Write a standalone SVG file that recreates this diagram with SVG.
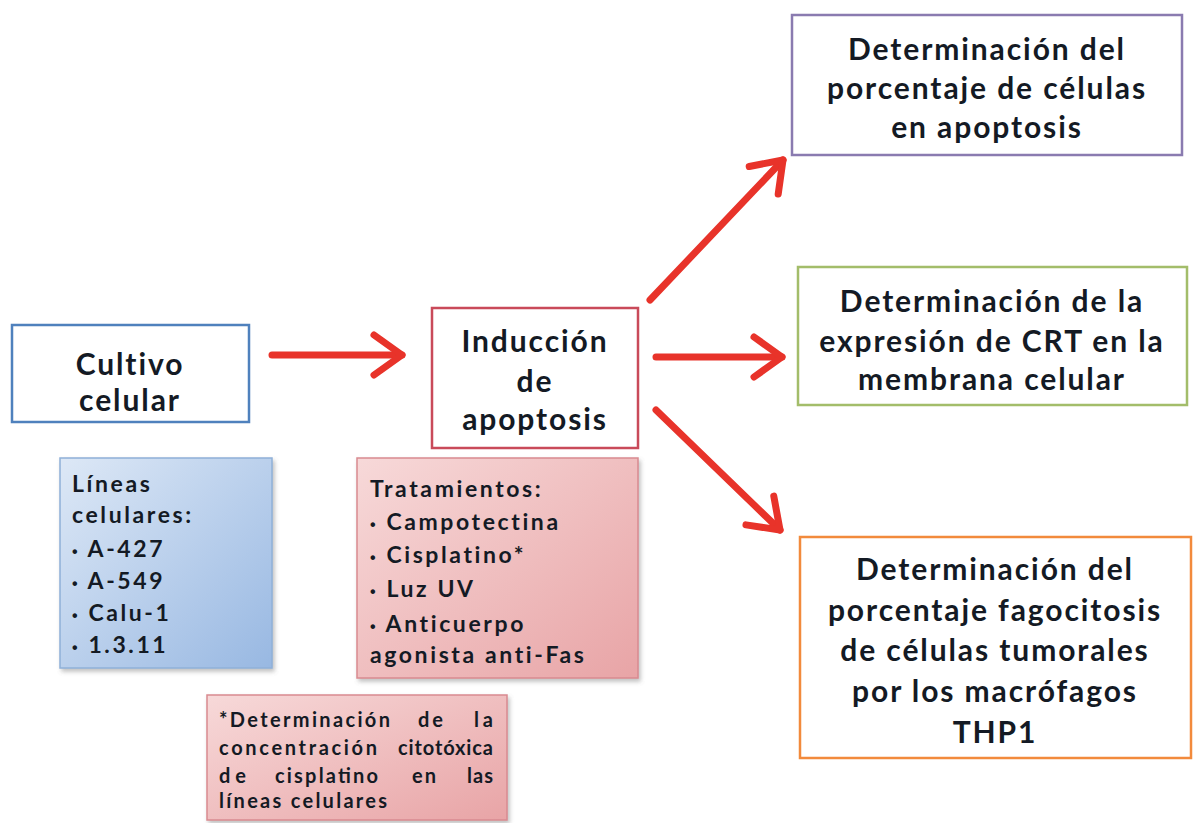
<svg xmlns="http://www.w3.org/2000/svg" width="1198" height="823" viewBox="0 0 1198 823">
<style>
.t{font-family:Lato,"Open Sans","Liberation Sans",sans-serif;font-weight:bold;fill:#141a24}
.big{font-size:30px;letter-spacing:1.9px;text-anchor:middle}
.mid{font-size:23px;letter-spacing:2.6px}
.sm{font-size:20px}
.b{font-family:"Liberation Sans",sans-serif;font-size:16px}
.box{fill:#fff;stroke-width:2.5}
.arrow{fill:none;stroke:#e8332a;stroke-width:7;stroke-linecap:round}
</style>
<defs>
<marker id="head" viewBox="0 0 40 50" refX="34" refY="25" markerWidth="40" markerHeight="50" markerUnits="userSpaceOnUse" orient="auto">
<path d="M6,5 L34,25 L6,45" fill="none" stroke="#e8332a" stroke-width="7" stroke-linecap="round" stroke-linejoin="round"/>
</marker>
<linearGradient id="blueG" x1="0" y1="0" x2="1" y2="1">
<stop offset="0" stop-color="#dde8f6"/>
<stop offset="1" stop-color="#98b8e2"/>
</linearGradient>
<linearGradient id="pinkG" x1="0" y1="0" x2="1" y2="1">
<stop offset="0" stop-color="#f7d9d9"/>
<stop offset="1" stop-color="#e8a4a6"/>
</linearGradient>
<filter id="sh" x="-10%" y="-10%" width="130%" height="130%">
<feDropShadow dx="2" dy="3" stdDeviation="2" flood-color="#777" flood-opacity="0.45"/>
</filter>
</defs>
<rect width="1198" height="823" fill="#fff"/>

<g id="connectors">
<path class="arrow" d="M272,355 L402,355" marker-end="url(#head)"/>
<path class="arrow" d="M656,357 L782,357" marker-end="url(#head)"/>
<path class="arrow" d="M650,300 L783,160" marker-end="url(#head)"/>
<path class="arrow" d="M656,410 L780,530" marker-end="url(#head)"/>
</g>

<g id="cultivo">
<rect class="box" x="12" y="325" width="237" height="97" stroke="#4f81bd"/>
<text class="t big" x="130" y="375">Cultivo</text>
<text class="t big" x="130" y="411">celular</text>
</g>

<g id="lineas">
<rect x="60" y="458" width="212" height="210" fill="url(#blueG)" stroke="#8fb0d8" stroke-width="1.5" filter="url(#sh)"/>
<text class="t mid" x="72" y="492">Líneas</text>
<text class="t mid" x="72" y="523">celulares:</text>
<text class="t mid" x="72" y="557"><tspan class="b">•</tspan> A-427</text>
<text class="t mid" x="72" y="589"><tspan class="b">•</tspan> A-549</text>
<text class="t mid" x="72" y="621"><tspan class="b">•</tspan> Calu-1</text>
<text class="t mid" x="72" y="653"><tspan class="b">•</tspan> 1.3.11</text>
</g>

<g id="induccion">
<rect class="box" x="432" y="308" width="206" height="140" stroke="#c94a5a"/>
<text class="t big" x="535" y="352">Inducción</text>
<text class="t big" x="535" y="392">de</text>
<text class="t big" x="535" y="430">apoptosis</text>
</g>

<g id="tratamientos">
<rect x="357" y="458" width="281" height="220" fill="url(#pinkG)" stroke="#d98a90" stroke-width="1.5" filter="url(#sh)"/>
<text class="t mid" x="370" y="497">Tratamientos:</text>
<text class="t mid" x="370" y="530"><tspan class="b">•</tspan> Campotectina</text>
<text class="t mid" x="370" y="563"><tspan class="b">•</tspan> Cisplatino*</text>
<text class="t mid" x="370" y="597"><tspan class="b">•</tspan> Luz UV</text>
<text class="t mid" x="370" y="632"><tspan class="b">•</tspan> Anticuerpo</text>
<text class="t mid" x="370" y="663">agonista anti-Fas</text>
</g>

<g id="nota">
<rect x="207" y="695" width="300" height="125" fill="url(#pinkG)" stroke="#d98a90" stroke-width="1.5" filter="url(#sh)"/>
<text class="t sm" x="219" y="727" textLength="171" lengthAdjust="spacing">*Determinación</text>
<text class="t sm" x="418" y="727" textLength="25" lengthAdjust="spacing">de</text>
<text class="t sm" x="474" y="727" textLength="19" lengthAdjust="spacing">la</text>
<text class="t sm" x="219" y="755" textLength="158" lengthAdjust="spacing">concentración</text>
<text class="t sm" x="398" y="755" textLength="95" lengthAdjust="spacing">citotóxica</text>
<text class="t sm" x="219" y="783" textLength="27" lengthAdjust="spacing">de</text>
<text class="t sm" x="275" y="783" textLength="103" lengthAdjust="spacing">cisplatino</text>
<text class="t sm" x="412" y="783" textLength="24" lengthAdjust="spacing">en</text>
<text class="t sm" x="467" y="783" textLength="26" lengthAdjust="spacing">las</text>
<text class="t sm" x="219" y="808" textLength="168" lengthAdjust="spacing">líneas celulares</text>
</g>

<g id="apoptosis">
<rect class="box" x="792" y="15" width="390" height="140" stroke="#8a7bb0"/>
<text class="t big" x="987" y="60">Determinación del</text>
<text class="t big" x="987" y="99">porcentaje de células</text>
<text class="t big" x="987" y="138">en apoptosis</text>
</g>

<g id="crt">
<rect class="box" x="798" y="267" width="389" height="138" stroke="#a3bd6a"/>
<text class="t big" x="992" y="312">Determinación de la</text>
<text class="t big" x="992" y="352">expresión de CRT en la</text>
<text class="t big" x="992" y="390">membrana celular</text>
</g>

<g id="fagocitosis">
<rect class="box" x="800" y="537" width="391" height="221" stroke="#f28a3c"/>
<text class="t big" x="995" y="580">Determinación del</text>
<text class="t big" x="995" y="621">porcentaje fagocitosis</text>
<text class="t big" x="995" y="661">de células tumorales</text>
<text class="t big" x="995" y="702">por los macrófagos</text>
<text class="t big" x="995" y="743">THP1</text>
</g>
</svg>
